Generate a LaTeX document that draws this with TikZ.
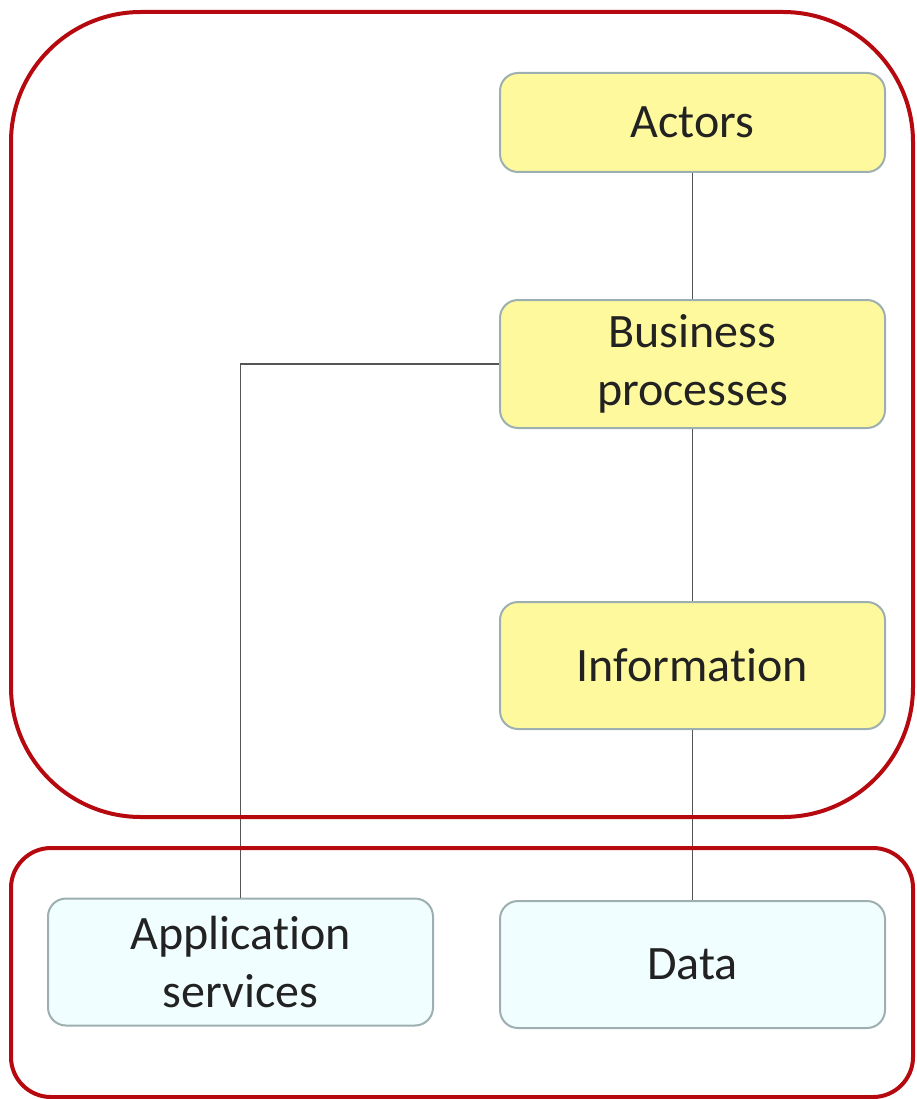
\documentclass[tikz,border=0pt]{standalone}
\usepackage{fontspec}
\setmainfont[Ligatures=NoCommon]{Carlito}
\definecolor{layerRed}{HTML}{B5080F}
\definecolor{boxYellow}{HTML}{FFF99D}
\definecolor{boxCyan}{HTML}{F1FEFF}
\definecolor{boxBorder}{HTML}{9DAFB0}
\definecolor{textDark}{HTML}{222222}
\definecolor{lineGray}{HTML}{555555}

\begin{document}
\begin{tikzpicture}
[x=1pt,y=-1pt,%
  boxDecorate/.style={shape=rectangle,rounded corners=18pt,draw=boxBorder,line width=2pt,
    minimum width=385pt,align=center,text=textDark,
    font=\fontsize{48}{58}\selectfont},%
  layerDecorate/.style={draw=layerRed,line width=4pt},%
  lineDecorate/.style={-,draw=lineGray,line width=1.3pt}]
\useasboundingbox (0,0) rectangle (916,1099);
%% business nodes
\foreach \nodename/\x/\y/\h/\txt in {
  actors/692.5/122.5/99/Actors,
  business/692.5/364/128/{Business\\processes},
  information/692.5/665.5/127/Information}
{
  \node (\nodename) at (\x,\y) [boxDecorate,fill=boxYellow,minimum height=\h pt] {\txt};
}
%% application nodes
\foreach \nodename/\x/\y/\txt in {
  application/240.5/962/{Application\\services},
  data/692.5/964.5/Data}
{
  \node (\nodename) at (\x,\y) [boxDecorate,fill=boxCyan,minimum height=127pt] {\txt};
}
%% edges or lines
\path
\foreach \startnode/\endnode in {actors/business, business/information, information/data}
{
  (\startnode) edge[lineDecorate] (\endnode)
};
\draw[lineDecorate] (business.west) -| (application.north);
%% layers
\draw[layerDecorate,rounded corners=130pt] (11,12) rectangle (913,817);
\draw[layerDecorate,rounded corners=40pt] (11,848) rectangle (913,1097);
\end{tikzpicture}
\end{document}
